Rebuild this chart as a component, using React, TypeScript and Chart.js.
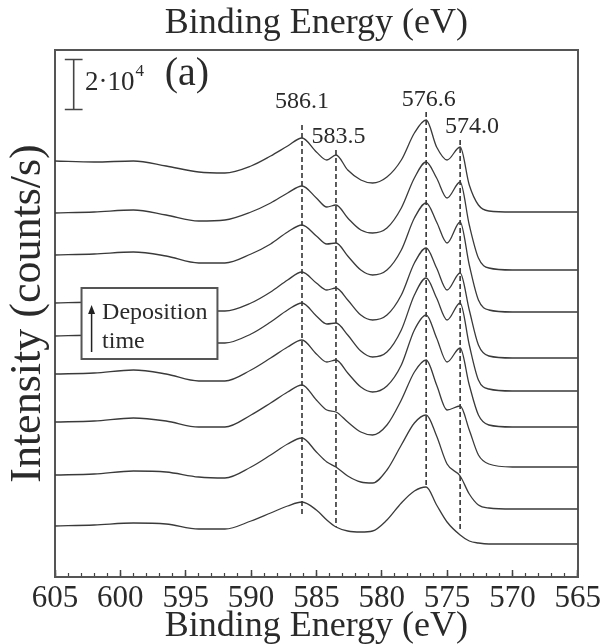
import React, { useEffect, useRef } from 'react';
import { Chart, registerables } from 'chart.js';

Chart.register(...registerables);

const SERIF = '"Liberation Serif", "Times New Roman", Times, serif';

// Binding energy grid (eV)
const energies = [605, 602, 599, 596.5, 594, 592, 590, 588.5, 587.2, 586.1, 585, 584.2, 583.5, 582.6, 581.6, 580.7, 579.6, 578.5, 577.5, 576.6, 575.8, 575.0, 574.0, 573.3, 572.6, 571.8, 570, 567, 565];

// Intensities (10^3 counts/s, stacked offsets included), top spectrum = latest deposition time
const spec1 = [166.4, 166.0, 166.4, 164.4, 162.0, 161.6, 164.4, 168.4, 172.4, 175.6, 170.0, 166.8, 168.8, 162.8, 158.8, 157.6, 160.0, 166.8, 177.6, 182.8, 172.0, 166.8, 172.0, 156.8, 148.8, 146.4, 146.0, 146.0, 146.0];
const spec2 = [145.6, 146.0, 146.8, 144.8, 142.4, 142.8, 146.0, 149.6, 153.6, 156.4, 151.6, 148.0, 148.8, 143.6, 138.8, 137.6, 139.6, 147.6, 159.6, 166.0, 159.6, 151.6, 158.0, 140.8, 127.6, 123.6, 122.8, 122.8, 122.8];
const spec3 = [128.8, 129.2, 130.0, 128.4, 125.6, 125.6, 129.2, 133.2, 138.0, 140.8, 136.4, 133.2, 133.6, 128.4, 122.8, 120.8, 122.8, 130.8, 143.6, 149.6, 142.0, 133.6, 142.0, 124.8, 110.8, 106.8, 106.0, 106.0, 106.0];
const spec4 = [109.6, 110.0, 110.8, 108.8, 106.4, 106.4, 109.6, 114.0, 118.8, 122.0, 117.6, 114.8, 115.6, 110.8, 104.8, 102.8, 104.8, 112.8, 125.6, 131.6, 123.6, 114.8, 121.6, 106.8, 92.8, 88.4, 87.6, 87.6, 87.6];
const spec5 = [96.4, 96.8, 97.6, 96.0, 94.0, 93.6, 97.2, 102.0, 106.8, 109.6, 104.4, 101.2, 101.6, 96.8, 90.4, 88.0, 90.0, 98.8, 112.8, 119.6, 111.6, 102.8, 109.6, 92.8, 78.8, 75.2, 74.4, 74.4, 74.4];
const spec6 = [81.2, 81.6, 82.8, 81.2, 78.4, 78.4, 82.8, 87.6, 92.0, 94.8, 89.2, 86.0, 86.8, 81.6, 76.0, 74.0, 76.4, 84.8, 98.8, 104.8, 95.6, 86.0, 91.6, 76.8, 64.8, 60.8, 60.0, 60.0, 60.0];
const spec7 = [62.0, 62.4, 63.6, 62.4, 60.0, 60.0, 64.8, 69.6, 74.0, 76.8, 70.8, 66.8, 66.0, 62.0, 58.0, 56.8, 60.8, 70.8, 82.0, 86.8, 76.8, 66.8, 68.4, 58.8, 48.8, 45.2, 44.0, 44.0, 44.0];
const spec8 = [40.8, 41.2, 42.4, 42.0, 40.0, 39.6, 44.0, 48.8, 53.2, 55.6, 50.0, 46.0, 44.0, 40.4, 38.0, 37.6, 42.8, 52.8, 61.6, 64.8, 56.4, 45.2, 40.4, 33.2, 28.8, 27.6, 27.2, 27.2, 27.2];
const spec9 = [20.4, 20.8, 21.6, 21.2, 19.2, 19.2, 22.4, 25.6, 28.4, 30.0, 26.8, 22.8, 20.0, 18.4, 18.0, 18.4, 22.8, 29.6, 34.4, 36.0, 28.8, 22.0, 16.8, 14.4, 13.6, 13.2, 13.2, 13.2, 13.2];

const spectra = [spec1, spec2, spec3, spec4, spec5, spec6, spec7, spec8, spec9];

// Peak marker lines
const peakPositions = [586.1, 583.5, 576.6, 574.0];
const peakLabels = ['586.1', '583.5', '576.6', '574.0'];
const dashTop = [180.8, 170.8, 186.0, 174.8];
const dashBottom = [24.0, 20.0, 36.0, 18.0];
const labelE = [586.1, 583.3, 576.4, 573.1];
const labelV = [190.0, 176.0, 190.8, 180.0];

// Scale bar (2·10^4 counts/s = 20 units)
const scaleBarE = [604.25, 603.57, 602.89];
const scaleBarV = [187, 207];
const scaleTextE = 602.7;
const scaleTextV = 197.6;

// Panel label
const panelLabel = '(a)';
const panelE = 594.9;
const panelV = 201.2;

// Deposition time box
const boxE = [602.97, 592.57];
const boxV = [115.6, 87.2];
const arrowE = 602.2;
const arrowV = [90, 108.8];
const boxTextE = 601.4;
const boxTextV = [105.6, 94.0];

const X_MIN = 565;
const X_MAX = 605;
const Y_MAX = 210.8;

const annotPlugin = {
  id: 'annot',
  afterDatasetsDraw(chart: any) {
    const { ctx } = chart;
    const x = chart.scales.x;
    const y = chart.scales.y;
    const px = (e: number) => x.getPixelForValue(e);
    const py = (v: number) => y.getPixelForValue(v);
    ctx.save();

    // Deposition box (covers spectra)
    const bx1 = px(boxE[0]);
    const bx2 = px(boxE[1]);
    const by1 = py(boxV[0]);
    const by2 = py(boxV[1]);
    ctx.fillStyle = '#ffffff';
    ctx.fillRect(bx1, by1, bx2 - bx1, by2 - by1);
    ctx.strokeStyle = '#555';
    ctx.lineWidth = 2;
    ctx.strokeRect(bx1, by1, bx2 - bx1, by2 - by1);

    // arrow
    const ax = px(arrowE);
    const ay1 = py(arrowV[0]);
    const ay2 = py(arrowV[1]);
    ctx.strokeStyle = '#222';
    ctx.lineWidth = 1.5;
    ctx.beginPath();
    ctx.moveTo(ax, ay1);
    ctx.lineTo(ax, ay2 + 6);
    ctx.stroke();
    ctx.fillStyle = '#222';
    ctx.beginPath();
    ctx.moveTo(ax, ay2);
    ctx.lineTo(ax - 3.5, ay2 + 9);
    ctx.lineTo(ax + 3.5, ay2 + 9);
    ctx.closePath();
    ctx.fill();

    ctx.fillStyle = '#2a2a2a';
    ctx.textAlign = 'left';
    ctx.textBaseline = 'middle';
    ctx.font = `24px ${SERIF}`;
    ctx.fillText('Deposition', px(boxTextE), py(boxTextV[0]));
    ctx.fillText('time', px(boxTextE), py(boxTextV[1]));

    // peak labels
    ctx.textAlign = 'center';
    ctx.font = `24px ${SERIF}`;
    labelE.forEach((e, i) => ctx.fillText(peakLabels[i], px(e), py(labelV[i])));

    // panel label
    ctx.font = `40px ${SERIF}`;
    ctx.fillText(panelLabel, px(panelE), py(panelV));

    // scale text
    ctx.textAlign = 'left';
    ctx.font = `27px ${SERIF}`;
    const sx = px(scaleTextE);
    const sy = py(scaleTextV);
    ctx.fillText('2\u00b710', sx, sy);
    const w = ctx.measureText('2\u00b710').width;
    ctx.font = `17px ${SERIF}`;
    ctx.fillText('4', sx + w + 1, sy - 11);

    ctx.restore();
  },
};

export default function App() {
  const canvasRef = useRef<HTMLCanvasElement | null>(null);

  useEffect(() => {
    if (!canvasRef.current) return;
    Chart.defaults.font.family = SERIF;

    const spectrumSets = spectra.map((s) => ({
      data: energies.map((e, i) => ({ x: e, y: s[i] })),
      borderColor: '#3a3a3a',
      borderWidth: 1.3,
      pointRadius: 0,
      cubicInterpolationMode: 'monotone' as const,
      fill: false,
    }));

    const dashSets = peakPositions.map((p, i) => ({
      data: [
        { x: p, y: dashTop[i] },
        { x: p, y: dashBottom[i] },
      ],
      borderColor: '#333',
      borderWidth: 1.6,
      borderDash: [5, 3],
      pointRadius: 0,
      fill: false,
    }));

    const scaleBarSet = {
      data: [
        { x: scaleBarE[0], y: scaleBarV[1] },
        { x: scaleBarE[2], y: scaleBarV[1] },
        { x: scaleBarE[1], y: scaleBarV[1] },
        { x: scaleBarE[1], y: scaleBarV[0] },
        { x: scaleBarE[0], y: scaleBarV[0] },
        { x: scaleBarE[2], y: scaleBarV[0] },
      ],
      borderColor: '#444',
      borderWidth: 1.6,
      pointRadius: 0,
      fill: false,
      tension: 0,
    };

    const chart = new Chart(canvasRef.current, {
      type: 'line',
      data: { datasets: [...spectrumSets, ...dashSets, scaleBarSet] as any },
      options: {
        animation: false,
        responsive: false,
        devicePixelRatio: 1,
        layout: { padding: 0 },
        plugins: {
          legend: { display: false },
          tooltip: { enabled: false },
          title: { display: false },
        },
        scales: {
          x: {
            type: 'linear',
            position: 'bottom',
            reverse: true,
            min: X_MIN,
            max: X_MAX,
            weight: 1,
            ticks: {
              stepSize: 5,
              autoSkip: false,
              maxRotation: 0,
              color: '#2a2a2a',
              padding: 10,
              font: { family: SERIF, size: 31 },
            },
            grid: {
              drawOnChartArea: false,
              drawTicks: true,
              tickLength: -7,
              tickColor: '#444',
              tickWidth: 1.5,
            },
            border: { display: true, color: '#555', width: 2 },
            title: {
              display: true,
              text: 'Binding Energy (eV)',
              color: '#2a2a2a',
              font: { family: SERIF, size: 36 },
              padding: { top: 0, bottom: -4 },
            },
            afterFit: (s: any) => {
              s.height = 67;
            },
          },
          xMinor: {
            type: 'linear',
            position: 'bottom',
            reverse: true,
            min: X_MIN,
            max: X_MAX,
            weight: 0,
            ticks: { stepSize: 1, display: false },
            grid: {
              drawOnChartArea: false,
              drawTicks: true,
              tickLength: -4,
              tickColor: '#444',
              tickWidth: 1.2,
            },
            border: { display: false },
            afterFit: (s: any) => {
              s.height = 0;
            },
          },
          xTop: {
            type: 'linear',
            position: 'top',
            reverse: true,
            min: X_MIN,
            max: X_MAX,
            ticks: { display: false },
            grid: { display: true, drawOnChartArea: false, drawTicks: false },
            border: { display: true, color: '#555', width: 2 },
            title: {
              display: true,
              text: 'Binding Energy (eV)',
              color: '#2a2a2a',
              font: { family: SERIF, size: 36 },
              padding: { top: 2, bottom: 0 },
            },
            afterFit: (s: any) => {
              s.height = 50;
            },
          },
          y: {
            type: 'linear',
            position: 'left',
            min: 0,
            max: Y_MAX,
            ticks: { display: false },
            grid: { display: true, drawOnChartArea: false, drawTicks: false },
            border: { display: true, color: '#555', width: 2 },
            title: {
              display: true,
              text: 'Intensity (counts/s)',
              color: '#2a2a2a',
              font: { family: SERIF, size: 44 },
              padding: { top: 2, bottom: 0 },
            },
            afterFit: (s: any) => {
              s.width = 55;
            },
          },
          yR: {
            type: 'linear',
            position: 'right',
            min: 0,
            max: Y_MAX,
            ticks: { display: false },
            grid: { display: true, drawOnChartArea: false, drawTicks: false },
            border: { display: true, color: '#555', width: 2 },
            afterFit: (s: any) => {
              s.width = 25;
            },
          },
        },
      } as any,
      plugins: [annotPlugin],
    });

    return () => {
      chart.destroy();
    };
  }, []);

  return (
    <div style={{ position: 'fixed', left: 0, top: 0, width: 611, height: 644, background: '#fff' }}>
      <canvas ref={canvasRef} width={611} height={644} style={{ display: 'block' }} />
    </div>
  );
}
